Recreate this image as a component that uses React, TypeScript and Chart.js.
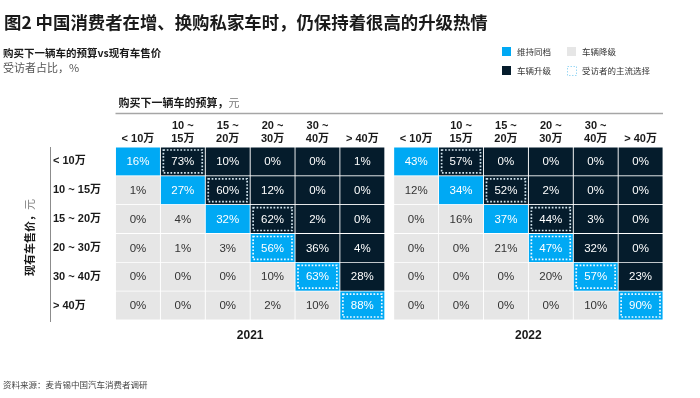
import React, { useEffect, useRef } from "react";
import { Chart, registerables } from "chart.js";

Chart.register(...registerables);

// ---------- data ----------
const budgetLabels: string[][] = [
  ["< 10万"],
  ["10 ~", "15万"],
  ["15 ~", "20万"],
  ["20 ~", "30万"],
  ["30 ~", "40万"],
  ["> 40万"],
];
const currentCarLabels = ["< 10万", "10 ~ 15万", "15 ~ 20万", "20 ~ 30万", "30 ~ 40万", "> 40万"];
const years = ["2021", "2022"];

const share2021 = [
  [16, 73, 10, 0, 0, 1],
  [1, 27, 60, 12, 0, 0],
  [0, 4, 32, 62, 2, 0],
  [0, 1, 3, 56, 36, 4],
  [0, 0, 0, 10, 63, 28],
  [0, 0, 0, 2, 10, 88],
];
const share2022 = [
  [43, 57, 0, 0, 0, 0],
  [12, 34, 52, 2, 0, 0],
  [0, 16, 37, 44, 3, 0],
  [0, 0, 21, 47, 32, 0],
  [0, 0, 0, 20, 57, 23],
  [0, 0, 0, 0, 10, 90],
];
// column index of the respondents' main choice, per row
const mainChoice2021 = [1, 2, 3, 3, 4, 5];
const mainChoice2022 = [1, 2, 3, 3, 4, 5];

const legendItems = ["维持同档", "车辆降级", "车辆升级", "受访者的主流选择"];

// ---------- styles ----------
const BLUE = "#00A9F4";
const DARK = "#051C2C";
const GRAY = "#E6E6E6";
const LATIN = '"Liberation Sans", "Noto Sans CJK SC", sans-serif';
const CJK = '"Noto Sans CJK SC", "Liberation Sans", sans-serif';
const GROUP_GAP = 0.2;

const tables = [share2021, share2022];
const mains = [mainChoice2021, mainChoice2022];
const nCols = budgetLabels.length;
const groupOffsets = years.map((_, g) => g * (nCols + GROUP_GAP));
const tickCenters: number[] = [];
const tickTexts: string[][] = [];
groupOffsets.forEach((off) => {
  budgetLabels.forEach((lab, c) => {
    tickCenters.push(off + c + 0.5);
    tickTexts.push(lab);
  });
});

function buildDatasets() {
  const ds: any[] = [];
  tables.forEach((table, g) => {
    const off = groupOffsets[g];
    for (let c = 0; c < nCols; c++) {
      const colors = table.map((_, r) => (r === c ? BLUE : c > r ? DARK : GRAY));
      ds.push({
        label: `${years[g]}-${c}`,
        data: table.map(() => [off + c, off + c + 1]),
        backgroundColor: colors,
        borderColor: "#ffffff",
        borderWidth: 0.75,
        borderSkipped: false,
        grouped: false,
        barPercentage: 1,
        categoryPercentage: 1,
        shares: table.map((row) => row[c]),
        isMain: table.map((_, r) => mains[g][r] === c),
        cellColors: colors,
      });
    }
  });
  return ds;
}

const overlayPlugin = {
  id: "overlay",
  afterDatasetsDraw(chart: any) {
    const ctx = chart.ctx as CanvasRenderingContext2D;
    chart.data.datasets.forEach((ds: any, di: number) => {
      const meta = chart.getDatasetMeta(di);
      meta.data.forEach((el: any, i: number) => {
        const p = el.getProps(["x", "base", "y", "height"], true);
        const left = Math.min(p.x, p.base);
        const right = Math.max(p.x, p.base);
        const top = p.y - p.height / 2;
        const bottom = p.y + p.height / 2;
        const col = ds.cellColors[i];
        ctx.save();
        ctx.fillStyle = col === GRAY ? "#333333" : "#ffffff";
        ctx.font = `11.5px ${LATIN}`;
        ctx.textAlign = "center";
        ctx.textBaseline = "middle";
        ctx.fillText(`${ds.shares[i]}%`, (left + right) / 2, p.y + 0.5);
        if (ds.isMain[i]) {
          ctx.strokeStyle = col === DARK ? "#cfe2ec" : "#eaf8ff";
          ctx.lineWidth = 1.7;
          ctx.setLineDash([1.7, 1.7]);
          const ins = 3;
          ctx.strokeRect(left + ins, top + ins, right - left - 2 * ins, bottom - top - 2 * ins);
        }
        ctx.restore();
      });
    });
  },
  afterDraw(chart: any) {
    const ctx = chart.ctx as CanvasRenderingContext2D;
    const area = chart.chartArea;
    const xs = chart.scales.x;
    ctx.save();
    ctx.textBaseline = "middle";
    ctx.textAlign = "left";

    // Title
    ctx.fillStyle = "#1a1a1a";
    ctx.font = `bold 17.4px ${CJK}`;
    ctx.fillText("图2 中国消费者在增、换购私家车时，仍保持着很高的升级热情", 4, 22);

    // Subtitle
    ctx.font = `bold 10.5px ${CJK}`;
    ctx.fillStyle = "#1a1a1a";
    ctx.fillText("购买下一辆车的预算vs现有车售价", 3, 53);
    ctx.font = `11px ${CJK}`;
    ctx.fillStyle = "#555555";
    ctx.fillText("受访者占比，%", 3, 68);

    // Legend
    const legendPos = [
      [502, 47],
      [567, 47],
      [502, 66],
      [567, 66],
    ];
    const legendFill = [BLUE, GRAY, DARK, null];
    legendItems.forEach((txt, k) => {
      const [lx, ly] = legendPos[k];
      const f = legendFill[k];
      if (f) {
        ctx.fillStyle = f;
        ctx.fillRect(lx, ly, 9, 9);
      } else {
        ctx.save();
        ctx.strokeStyle = "#9ad8f5";
        ctx.lineWidth = 1;
        ctx.setLineDash([1.5, 1.5]);
        ctx.strokeRect(lx + 0.5, ly + 0.5, 9, 9);
        ctx.restore();
      }
      ctx.fillStyle = "#333333";
      ctx.font = `8.5px ${CJK}`;
      ctx.fillText(txt, lx + 15, ly + 5);
    });

    // Header over columns
    ctx.font = `bold 11px ${CJK}`;
    ctx.fillStyle = "#1a1a1a";
    const h1 = "购买下一辆车的预算，";
    ctx.fillText(h1, area.left + 3, 103);
    const w1 = ctx.measureText(h1).width;
    ctx.font = `11px ${CJK}`;
    ctx.fillStyle = "#777777";
    ctx.fillText("元", area.left + 3 + w1, 103);

    ctx.strokeStyle = "#a6a6a6";
    ctx.lineWidth = 1.5;
    ctx.beginPath();
    ctx.moveTo(area.left, 113.5);
    ctx.lineTo(area.right, 113.5);
    ctx.stroke();

    // Left vertical rule
    ctx.strokeStyle = "#8c8c8c";
    ctx.lineWidth = 1;
    ctx.beginPath();
    ctx.moveTo(50.5, area.top);
    ctx.lineTo(50.5, area.bottom + 2);
    ctx.stroke();

    // Y title (rotated)
    ctx.save();
    ctx.translate(30, (area.top + area.bottom) / 2 + 4);
    ctx.rotate(-Math.PI / 2);
    ctx.font = `bold 11px ${CJK}`;
    const t1 = "现有车售价，";
    const tw1 = ctx.measureText(t1).width;
    ctx.font = `11px ${CJK}`;
    const tw2 = ctx.measureText("元").width;
    const start = -(tw1 + tw2) / 2;
    ctx.font = `bold 11px ${CJK}`;
    ctx.fillStyle = "#1a1a1a";
    ctx.fillText(t1, start, 0);
    ctx.font = `11px ${CJK}`;
    ctx.fillStyle = "#777777";
    ctx.fillText("元", start + tw1, 0);
    ctx.restore();

    // Year labels
    ctx.textAlign = "center";
    ctx.font = `bold 12px ${LATIN}`;
    ctx.fillStyle = "#1a1a1a";
    years.forEach((y, g) => {
      const cx = xs.getPixelForValue(groupOffsets[g] + nCols / 2);
      ctx.fillText(y, cx, area.bottom + 16);
    });

    // Footer
    ctx.textAlign = "left";
    ctx.font = `8.5px ${CJK}`;
    ctx.fillStyle = "#444444";
    ctx.fillText("资料来源：麦肯锡中国汽车消费者调研", 3, 385);
    ctx.restore();
  },
};

export default function App() {
  const canvasRef = useRef<HTMLCanvasElement | null>(null);

  useEffect(() => {
    if (!canvasRef.current) return;
    const chart = new Chart(canvasRef.current, {
      type: "bar",
      data: {
        labels: currentCarLabels,
        datasets: buildDatasets(),
      },
      options: {
        animation: false,
        responsive: true,
        maintainAspectRatio: false,
        indexAxis: "y",
        layout: { padding: { left: 53, right: 37, top: 115, bottom: 78 } },
        plugins: {
          legend: { display: false },
          tooltip: { enabled: false },
          title: { display: false },
        },
        scales: {
          x: {
            type: "linear",
            position: "top",
            min: 0,
            max: nCols * 2 + GROUP_GAP,
            grid: { display: false, drawTicks: false },
            border: { display: false },
            afterBuildTicks: (s: any) => {
              s.ticks = tickCenters.map((v) => ({ value: v }));
            },
            afterFit: (s: any) => {
              s.height = 32;
            },
            ticks: {
              autoSkip: false,
              maxRotation: 0,
              minRotation: 0,
              padding: 1,
              color: "#1a1a1a",
              font: { family: LATIN, size: 11, weight: "bold", lineHeight: 1.2 },
              callback: (_v: any, i: number) => tickTexts[i],
            },
          },
          y: {
            type: "category",
            grid: { display: false, drawTicks: false },
            border: { display: false },
            afterFit: (s: any) => {
              s.width = 62.5;
            },
            ticks: {
              crossAlign: "far",
              padding: 0,
              color: "#1a1a1a",
              font: { family: LATIN, size: 11, weight: "bold" },
            },
          },
        },
      } as any,
      plugins: [overlayPlugin],
    });
    return () => chart.destroy();
  }, []);

  return (
    <div style={{ position: "fixed", left: 0, top: 0, width: 700, height: 398, background: "#fff" }}>
      <canvas ref={canvasRef} />
    </div>
  );
}
